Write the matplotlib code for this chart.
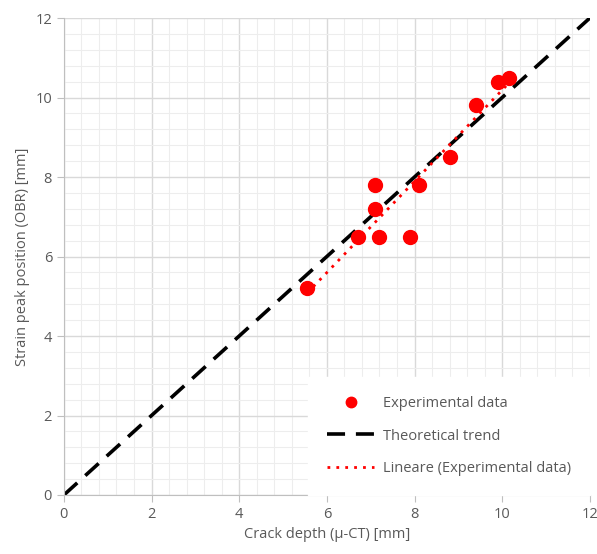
import numpy as np
import matplotlib.pyplot as plt
from matplotlib.ticker import MultipleLocator

plt.rcParams['font.family'] = ['Open Sans', 'DejaVu Sans']

# crack depth from micro-CT vs strain peak position from OBR, both in mm
crack_depth = [5.55, 6.7, 7.1, 7.1, 7.2, 7.9, 8.1, 8.8, 9.4, 9.9, 10.15]
peak_pos = [5.2, 6.5, 7.8, 7.2, 6.5, 6.5, 7.8, 8.5, 9.8, 10.4, 10.5]
theory_x = [0, 12]
theory_y = [0, 12]

grey = '#595959'

fig = plt.figure(figsize=(5.97, 5.54), dpi=100)
ax = fig.add_axes([0.107, 0.1065, 0.881, 0.861])

ax.set_xlim(0, 12)
ax.set_ylim(0, 12)
ax.xaxis.set_major_locator(MultipleLocator(2))
ax.yaxis.set_major_locator(MultipleLocator(2))
ax.xaxis.set_minor_locator(MultipleLocator(0.4))
ax.yaxis.set_minor_locator(MultipleLocator(0.4))
ax.grid(True, which='major', color='#d9d9d9', lw=1.0)
ax.grid(True, which='minor', color='#ededed', lw=0.8)
ax.set_axisbelow(True)

for s in ['top', 'right']:
    ax.spines[s].set_visible(False)
for s in ['left', 'bottom']:
    ax.spines[s].set_color('#bfbfbf')
ax.tick_params(which='major', length=5, color='#bfbfbf', labelcolor=grey, labelsize=10.5)
ax.tick_params(which='minor', length=0)

ax.plot(crack_depth, peak_pos, 'o', color='red', ms=10, label='Experimental data', zorder=3)
ax.plot(theory_x, theory_y, color='black', lw=2.6, dashes=(5, 3), label='Theoretical trend', zorder=2)

# linear fit of the experimental points
k, b = np.polyfit(crack_depth, peak_pos, 1)
fx = np.array([min(crack_depth), max(crack_depth)])
ax.plot(fx, k * fx + b, color='red', lw=2, linestyle=(0, (1, 2.2)),
        label='Lineare (Experimental data)', zorder=2.5)

ax.set_xlabel('Crack depth (\u03bc-CT) [mm]', color=grey, fontsize=10.5)
ax.set_ylabel('Strain peak position (OBR) [mm]', color=grey, fontsize=10.5)

leg = ax.legend(loc='lower right', frameon=True, fancybox=False, fontsize=10.5,
                labelspacing=1.2, handlelength=3.2, handletextpad=0.6, markerscale=0.75,
                borderpad=1.3, borderaxespad=0.0)
leg.get_frame().set_edgecolor('white')
leg.get_frame().set_facecolor('white')
leg.get_frame().set_alpha(1)
for t in leg.get_texts():
    t.set_color(grey)

fig.savefig('out.png', dpi=100)
